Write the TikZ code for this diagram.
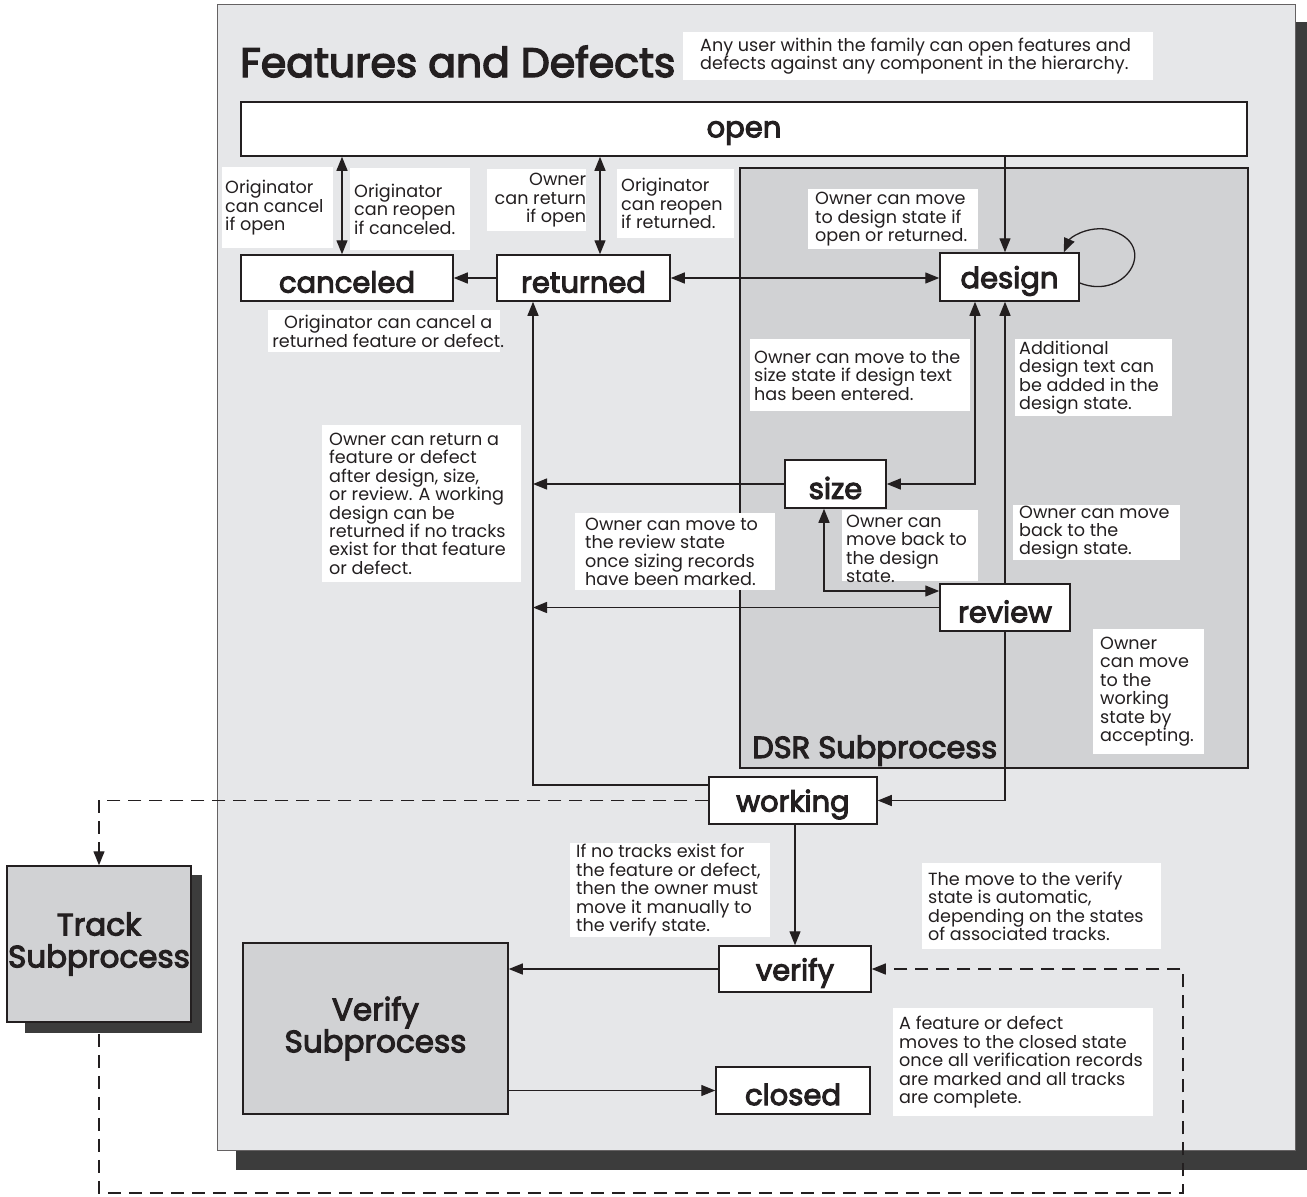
\documentclass[tikz,border=0pt]{standalone}
\usepackage{fontspec}
\setmainfont{Poppins}
\newfontfamily\semib{Poppins}[FakeBold=3.5]
\usetikzlibrary{arrows.meta,calc}
\definecolor{mainbg}{HTML}{E6E7E9}
\definecolor{subbg}{HTML}{D1D2D4}
\definecolor{shad}{HTML}{3C3C3C}
\definecolor{ink}{HTML}{231F20}
\newcommand{\lowr}[1]{\raisebox{-4pt}[\height][\depth]{#1}}
\begin{document}
\begin{tikzpicture}[x=1pt,y=-1pt,
  >={Triangle[length=14pt,width=11pt]},
  statebox/.style={draw=ink,line width=1.5pt,fill=white,inner sep=0pt,text=ink,
    font=\fontsize{29}{32}\selectfont\semib},
  subbox/.style={draw=ink,line width=1.5pt,fill=subbg,inner sep=0pt,text=ink,align=center,
    font=\fontsize{31}{32}\selectfont\semib},
  notebox/.style={fill=white,inner sep=0pt,anchor=north west},
  notetxt/.style={inner sep=0pt,align=left,anchor=west,xshift=4pt,text=ink,
    font=\fontsize{17.6}{18.4}\selectfont},
  conn/.style={draw=ink,line width=1.3pt},
  dconn/.style={draw=ink,line width=1.3pt,dash pattern=on 13pt off 8pt}
]
\useasboundingbox (0,0) rectangle (1307,1197);
% main frame
\fill[shad] (236,22) rectangle (1311,1170);
\filldraw[fill=mainbg,draw=ink!70,line width=1pt] (217,4) rectangle (1295,1150);
\filldraw[fill=subbg,draw=ink,line width=1.3pt] (740,168) rectangle (1248,768);
\node[anchor=base west,inner sep=0pt,text=ink,font=\fontsize{30.5}{32}\selectfont\semib] (dsr) at (752,758) {DSR Subprocess};
\node[anchor=base west,inner sep=0pt,text=ink,font=\fontsize{41}{44}\selectfont\semib] (title) at (240,77) {Features and Defects};

% notes
\node[notebox,minimum width=470,minimum height=48] (n0) at (683,32) {};
\node[notetxt,xshift=13pt] (n0t) at (n0.west) {Any user within the family can open features and\\defects against any component in the hierarchy.};
\node[notebox,minimum width=111,minimum height=81] (n1) at (222,167) {};
\node[notetxt,xshift=-1pt] (n1t) at (n1.west) {Originator\\can cancel\\if open};
\node[notebox,minimum width=120,minimum height=82] (n2) at (350,168) {};
\node[notetxt] (n2t) at (n2.west) {Originator\\can reopen\\if canceled.};
\node[notebox,minimum width=99,minimum height=62] (n3) at (487,169) {};
\node[notetxt,anchor=east,align=right,xshift=-4pt] (n3t) at (n3.east) {Owner\\can return\\if open};
\node[notebox,minimum width=117,minimum height=69] (n4) at (617,169) {};
\node[notetxt] (n4t) at (n4.west) {Originator\\can reopen\\if returned.};
\node[notebox,minimum width=170,minimum height=60] (n5) at (808,189) {};
\node[notetxt,xshift=3pt] (n5t) at (n5.west) {Owner can move\\to design state if\\open or returned.};
\node[notebox,minimum width=232,minimum height=42] (n6) at (268,310) {};
\node[notetxt,anchor=center,align=center,xshift=0pt] (n6t) at (n6.center) {Originator can cancel a\\returned feature or defect.};
\node[notebox,minimum width=220,minimum height=72] (n7) at (750,339) {};
\node[notetxt] (n7t) at (n7.west) {Owner can move to the\\size state if design text\\has been entered.};
\node[notebox,minimum width=157,minimum height=77] (n8) at (1015,339) {};
\node[notetxt] (n8t) at (n8.west) {Additional\\design text can\\be added in the\\design state.};
\node[notebox,minimum width=199,minimum height=157] (n9) at (322,425) {};
\node[notetxt,xshift=3pt] (n9t) at (n9.west) {Owner can return a\\feature or defect\\after design, size,\\or review. A working\\design can be\\returned if no tracks\\exist for that feature\\or defect.};
\node[notebox,minimum width=200,minimum height=77] (n10) at (575,513) {};
\node[notetxt,xshift=6pt] (n10t) at (n10.west) {Owner can move to\\the review state\\once sizing records\\have been marked.};
\node[notebox,minimum width=136,minimum height=71] (n11) at (842,510) {};
\node[notetxt,yshift=-3pt] (n11t) at (n11.west) {Owner can\\move back to\\the design\\state.};
\node[notebox,minimum width=167,minimum height=55] (n12) at (1013,505) {};
\node[notetxt,xshift=2pt] (n12t) at (n12.west) {Owner can move\\back to the\\design state.};
\node[notebox,minimum width=111,minimum height=125] (n13) at (1093,629) {};
\node[notetxt,xshift=3pt] (n13t) at (n13.west) {Owner\\can move\\to the\\working\\state by\\accepting.};
\node[notebox,minimum width=200,minimum height=94] (n14) at (570,843) {};
\node[notetxt,xshift=2pt] (n14t) at (n14.west) {If no tracks exist for\\the feature or defect,\\then the owner must\\move it manually to\\the verify state.};
\node[notebox,minimum width=239,minimum height=86] (n15) at (922,863) {};
\node[notetxt,xshift=2pt] (n15t) at (n15.west) {The move to the verify\\state is automatic,\\depending on the states\\of associated tracks.};
\node[notebox,minimum width=260,minimum height=108] (n16) at (893,1008) {};
\node[notetxt,xshift=2pt] (n16t) at (n16.west) {A feature or defect\\moves to the closed state\\once all verification records\\are marked and all tracks\\are complete.};

% states
\node[statebox,minimum width=1006,minimum height=54] (open) at (744,129) {\lowr{open}};
\node[statebox,minimum width=212,minimum height=46] (canceled) at (347,278) {\lowr{canceled}};
\node[statebox,minimum width=173,minimum height=46] (returned) at (583.5,278) {\lowr{returned}};
\node[statebox,minimum width=139,minimum height=48] (design) at (1009.5,277) {\lowr{design}};
\node[statebox,minimum width=101,minimum height=48] (size) at (835.5,484) {\lowr{size}};
\node[statebox,minimum width=130,minimum height=47] (review) at (1005,607.5) {\lowr{review}};
\node[statebox,minimum width=168,minimum height=47] (working) at (793,800.5) {\lowr{working}};
\node[statebox,minimum width=152,minimum height=46] (verify) at (795,969) {\lowr{verify}};
\node[statebox,minimum width=154,minimum height=47] (closed) at (793,1090.5) {\lowr{closed}};
\node[subbox,minimum width=265,minimum height=171] (vsub) at (375.5,1028.5) {Verify\\Subprocess};
\fill[shad] (25,875) rectangle (202,1033);
\node[subbox,minimum width=184,minimum height=156] (track) at (99,944) {Track\\Subprocess};

% connectors
\coordinate (rl) at (533,785);
\draw[conn,<->] ([xshift=-5pt]canceled.north) -- ([xshift=-5pt]canceled.north |- open.south);
\draw[conn,<->] ([xshift=16.5pt]returned.north) -- ([xshift=16.5pt]returned.north |- open.south);
\draw[conn,->] (returned.west) -- (canceled.east);
\draw[conn,<->] (returned.east) -- (returned.east -| design.west);
\draw[conn,->] ([xshift=-4.5pt]design.north |- open.south) -- ([xshift=-4.5pt]design.north);
\draw[conn,->] ([yshift=-6pt]design.east) .. controls (1128,302) and (1162,240) .. (1105,229)
   .. controls (1085,227) and (1070,238) .. ([xshift=-16pt]design.north east);
\draw[conn,<->] (size.east) -| ([xshift=-34.5pt]design.south);
\draw[conn,->] (review.north) -- (review.north |- design.south);
\draw[conn,->] (review.south) |- (working.east);
\draw[conn,<->] ([xshift=-11.5pt]size.south) |- ([yshift=16.5pt]review.west);
\draw[conn,->] (size.west) -- (size.west -| rl);
\draw[conn,->] (review.west) -- (review.west -| rl);
\draw[conn,->] ([yshift=15.5pt]working.west) -| ([xshift=-50.5pt]returned.south);
\draw[conn,->] (verify.north |- working.south) -- (verify.north);
\draw[conn,->] (verify.west) -- (verify.west -| vsub.east);
\draw[conn,->] (closed.west -| vsub.east) -- (closed.west);
\coordinate (dr) at (1183,1193);
\draw[dconn,->] (working.west) -| (track.north);
\draw[dconn,->] ([yshift=-11pt]track.south) |- (dr) |- (verify.east);
\end{tikzpicture}
\end{document}
